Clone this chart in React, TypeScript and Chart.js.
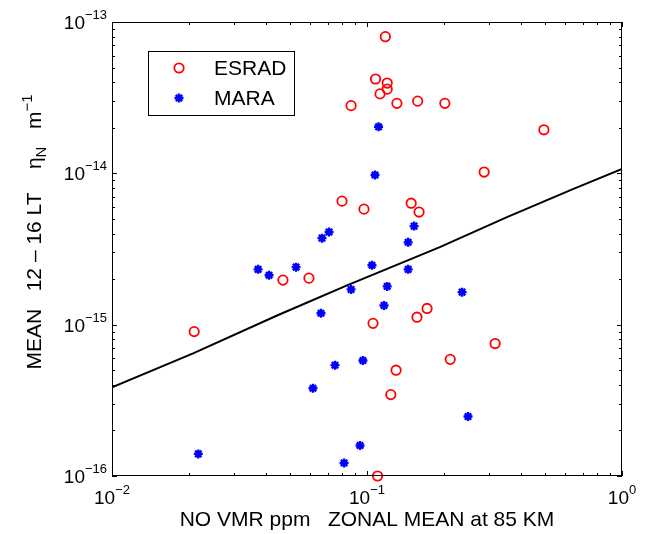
import { useEffect, useRef } from "react";
import { Chart, registerables } from "chart.js";

Chart.register(...registerables);

// ESRAD (red circles)
const esradX = [
  0.118, 0.108, 0.12, 0.12, 0.1125, 0.0866, 0.131, 0.158, 0.202, 0.494, 0.288, 0.0798, 0.0973,
  0.149, 0.16, 0.0468, 0.0592, 0.021, 0.1056, 0.157, 0.172, 0.318, 0.212, 0.13, 0.124, 0.11,
];
const esradY = [
  8.0e-14, 4.2e-14, 3.95e-14, 3.6e-14, 3.35e-14, 2.8e-14, 2.9e-14, 3.0e-14, 2.9e-14, 1.94e-14,
  1.02e-14, 6.55e-15, 5.8e-15, 6.35e-15, 5.55e-15, 1.97e-15, 2.03e-15, 9.0e-16, 1.02e-15, 1.12e-15,
  1.28e-15, 7.5e-16, 5.9e-16, 5.0e-16, 3.45e-16, 1.0e-16,
];

// MARA (blue asterisks)
const maraX = [
  0.111, 0.1075, 0.071, 0.0666, 0.153, 0.145, 0.0374, 0.0413, 0.0527, 0.1046, 0.145, 0.0866, 0.12,
  0.236, 0.1166, 0.066, 0.0749, 0.0964, 0.0614, 0.249, 0.0218, 0.0939, 0.0813,
];
const maraY = [
  2.03e-14, 9.75e-15, 4.1e-15, 3.73e-15, 4.48e-15, 3.5e-15, 2.32e-15, 2.12e-15, 2.4e-15, 2.47e-15,
  2.32e-15, 1.71e-15, 1.79e-15, 1.64e-15, 1.34e-15, 1.19e-15, 5.4e-16, 5.8e-16, 3.8e-16, 2.47e-16,
  1.4e-16, 1.59e-16, 1.22e-16,
];

// black reference line
const lineX = [0.01, 0.0208, 0.0444, 0.0835, 0.193, 0.354, 0.642, 1];
const lineY = [3.85e-16, 6.46e-16, 1.15e-15, 1.82e-15, 3.25e-15, 5.13e-15, 7.87e-15, 1.068e-14];

// tick labels are 10^p
const xTickPowers = [-2, -1, 0];
const yTickPowers = [-16, -15, -14, -13];

const FONT = "'Liberation Sans', Arial, Helvetica, sans-serif";

const expText = (p: number) => (p < 0 ? "\u2212" + Math.abs(p) : String(p));

const toPoints = (xs: number[], ys: number[]) => xs.map((x, i) => ({ x, y: ys[i] }));

const matlabAxes = {
  id: "matlabAxes",
  afterDatasetsDraw(chart: any) {
    const { ctx, chartArea } = chart;
    const { left, right, top, bottom } = chartArea;
    const xs = chart.scales.x;
    const ys = chart.scales.y;

    ctx.save();
    ctx.strokeStyle = "#000";
    ctx.lineWidth = 1;
    ctx.strokeRect(left + 0.5, top + 0.5, right - left - 1, bottom - top - 1);

    ctx.beginPath();
    // x ticks, major and minor, top and bottom
    for (let p = xTickPowers[0]; p <= xTickPowers[xTickPowers.length - 1]; p++) {
      for (let m = 1; m <= 9; m++) {
        const v = m * Math.pow(10, p);
        if (v > xs.max * 1.0001) break;
        const px = Math.round(xs.getPixelForValue(v)) + 0.5;
        const len = m === 1 ? 5 : 3;
        ctx.moveTo(px, bottom);
        ctx.lineTo(px, bottom - len);
        ctx.moveTo(px, top);
        ctx.lineTo(px, top + len);
      }
    }
    for (let p = yTickPowers[0]; p <= yTickPowers[yTickPowers.length - 1]; p++) {
      for (let m = 1; m <= 9; m++) {
        const v = m * Math.pow(10, p);
        if (v > ys.max * 1.0001) break;
        const py = Math.round(ys.getPixelForValue(v)) + 0.5;
        const len = m === 1 ? 5 : 3;
        ctx.moveTo(left, py);
        ctx.lineTo(left + len, py);
        ctx.moveTo(right, py);
        ctx.lineTo(right - len, py);
      }
    }
    ctx.stroke();

    // tick labels 10^p
    const baseFont = `19px ${FONT}`;
    const supFont = `13px ${FONT}`;
    ctx.fillStyle = "#000";
    ctx.textBaseline = "alphabetic";
    ctx.textAlign = "left";
    const measure = (p: number) => {
      ctx.font = baseFont;
      const w1 = ctx.measureText("10").width;
      ctx.font = supFont;
      const w2 = ctx.measureText(expText(p)).width;
      return [w1, w2];
    };
    xTickPowers.forEach((p) => {
      const px = xs.getPixelForValue(Math.pow(10, p));
      const [w1, w2] = measure(p);
      const sx = px - (w1 + w2) / 2;
      ctx.font = baseFont;
      ctx.fillText("10", sx, bottom + 28);
      ctx.font = supFont;
      ctx.fillText(expText(p), sx + w1, bottom + 18);
    });
    yTickPowers.forEach((p) => {
      const py = ys.getPixelForValue(Math.pow(10, p));
      const [w1, w2] = measure(p);
      const sx = left - 5 - (w1 + w2);
      ctx.font = baseFont;
      ctx.fillText("10", sx, py + 7);
      ctx.font = supFont;
      ctx.fillText(expText(p), sx + w1, py - 3);
    });

    // x axis title
    ctx.font = `21px ${FONT}`;
    ctx.textAlign = "center";
    ctx.fillText("NO VMR ppm   ZONAL MEAN at 85 KM", (left + right) / 2, bottom + 50);

    // y axis title, rotated, with subscript and superscript
    const parts: [string, string, number][] = [
      ["MEAN   12 \u2013 16 LT    \u03b7", `21px ${FONT}`, 0],
      ["N", `15px ${FONT}`, 5],
      ["   m", `21px ${FONT}`, 0],
      ["\u22121", `15px ${FONT}`, -9],
    ];
    let total = 0;
    const widths = parts.map(([t, f]) => {
      ctx.font = f;
      const w = ctx.measureText(t).width;
      total += w;
      return w;
    });
    ctx.translate(41, (top + bottom) / 2 - 17);
    ctx.rotate(-Math.PI / 2);
    ctx.textAlign = "left";
    let cx = -total / 2;
    parts.forEach(([t, f, dy], i) => {
      ctx.font = f;
      ctx.fillText(t, cx, dy);
      cx += widths[i];
    });
    ctx.restore();
  },
  afterDraw(chart: any) {
    const { ctx, chartArea } = chart;
    const bx = chartArea.left + 36;
    const by = chartArea.top + 29;
    const bw = 146;
    const bh = 64;
    ctx.save();
    ctx.fillStyle = "#fff";
    ctx.fillRect(bx, by, bw, bh);
    ctx.strokeStyle = "#000";
    ctx.lineWidth = 1;
    ctx.strokeRect(bx + 0.5, by + 0.5, bw, bh);

    const entries = chart.data.datasets.slice(0, 2);
    entries.forEach((ds: any, i: number) => {
      const my = by + 17 + i * 30;
      const mx = bx + 31;
      ctx.strokeStyle = ds.borderColor;
      ctx.lineWidth = ds.borderWidth;
      ctx.beginPath();
      if (ds.pointStyle === "circle") {
        ctx.arc(mx, my, ds.pointRadius, 0, Math.PI * 2);
      } else {
        const r = ds.pointRadius;
        const d = r * Math.SQRT1_2;
        ctx.moveTo(mx - r, my);
        ctx.lineTo(mx + r, my);
        ctx.moveTo(mx, my - r);
        ctx.lineTo(mx, my + r);
        ctx.moveTo(mx - d, my - d);
        ctx.lineTo(mx + d, my + d);
        ctx.moveTo(mx - d, my + d);
        ctx.lineTo(mx + d, my - d);
      }
      ctx.stroke();
      ctx.fillStyle = "#000";
      ctx.font = `21px ${FONT}`;
      ctx.textAlign = "left";
      ctx.textBaseline = "middle";
      ctx.fillText(ds.label, bx + 66, my + 1);
    });
    ctx.restore();
  },
};

export default function App() {
  const canvasRef = useRef<HTMLCanvasElement>(null);

  useEffect(() => {
    if (!canvasRef.current) return;

    const chart = new Chart(canvasRef.current, {
      type: "scatter",
      data: {
        datasets: [
          {
            label: "ESRAD",
            data: toPoints(esradX, esradY),
            pointStyle: "circle",
            pointRadius: 4.7,
            borderColor: "#ff0000",
            backgroundColor: "rgba(0,0,0,0)",
            borderWidth: 1.8,
            clip: false,
          },
          {
            label: "MARA",
            data: toPoints(maraX, maraY),
            pointStyle: "star",
            pointRadius: 4.5,
            borderColor: "#0000ff",
            backgroundColor: "#0000ff",
            borderWidth: 2.4,
            clip: false,
          },
          {
            label: "fit",
            data: toPoints(lineX, lineY),
            showLine: true,
            pointRadius: 0,
            borderColor: "#000",
            borderWidth: 2,
            tension: 0,
          },
        ],
      } as any,
      options: {
        animation: false,
        responsive: true,
        maintainAspectRatio: false,
        layout: { padding: { left: 112, right: 27, top: 22, bottom: 58 } },
        scales: {
          x: { type: "logarithmic", min: 0.01, max: 1, display: false },
          y: { type: "logarithmic", min: 1e-16, max: 1e-13, display: false },
        },
        plugins: {
          legend: { display: false },
          tooltip: { enabled: false },
        },
      },
      plugins: [matlabAxes],
    });

    return () => chart.destroy();
  }, []);

  return (
    <div
      style={{
        position: "fixed",
        left: 0,
        top: 0,
        width: 649,
        height: 534,
        background: "#fff",
      }}
    >
      <canvas ref={canvasRef} />
    </div>
  );
}
